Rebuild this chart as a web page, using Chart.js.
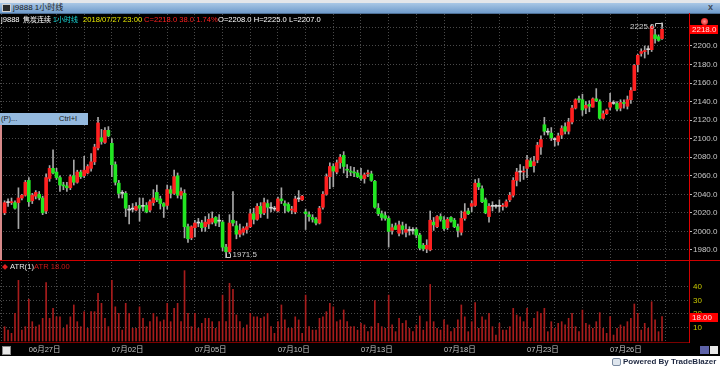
<!DOCTYPE html>
<html><head><meta charset="utf-8">
<script src="https://cdn.jsdelivr.net/npm/chart.js@4.4.0/dist/chart.umd.min.js"></script>
<style>
html,body{margin:0;padding:0;background:#000;width:720px;height:367px;overflow:hidden;font-family:"Liberation Sans","Noto Sans CJK SC",sans-serif;}
.abs{position:absolute;white-space:nowrap;}
#tbTop{left:0;top:0;width:720px;height:3px;background:#e4e6ea;}
#tb{left:0;top:3px;width:720px;height:10px;background:linear-gradient(#a9c7e6,#6f9bcb);border-bottom:1px solid #4d6f96;}
#tbIcon{left:2px;top:4px;width:7px;height:6px;background:#2b2b2b;border:1px solid #d0d0d0;}
#tbText{left:13px;top:3px;font-size:8px;line-height:10px;color:#1a1a1a;}
#tbClose{left:708px;top:2px;font-size:9px;line-height:10px;color:#404a58;font-weight:bold;}
.info{top:15px;font-size:7.6px;line-height:10px;}
#menu{left:0;top:113px;width:88px;height:12px;background:#94b9de;font-size:7.5px;line-height:12px;color:#1a1a1a;}
#pc{left:0;top:13px;}
#ac{left:0;top:260px;}
#bottom{left:0;top:356px;width:720px;height:11px;background:#fff;}
#powered{left:623px;top:356px;font-size:8px;line-height:11px;font-weight:bold;color:#1d2740;}
#pIcon{left:612px;top:358px;width:7px;height:6px;border:1px solid #7a8aa0;border-radius:2px;background:#dfe6ee;}
#gearL{left:2px;top:346px;width:7px;height:7px;background:#e8e8e8;border:1px solid #888;}
#blueR{left:700px;top:346px;width:9px;height:8px;background:#5d62a8;}
#gearR{left:710px;top:346px;width:8px;height:8px;background:#e8e8e8;}
#dot{left:701px;top:18px;width:7px;height:7px;border-radius:50%;background:radial-gradient(#ff9090,#e00000);}
#leftLine{left:0;top:125px;width:2px;height:135px;background:#d88a8a;}
.leg{top:262px;font-size:7.6px;line-height:10px;}
</style></head>
<body>
<div class="abs" id="tbTop"></div>
<div class="abs" id="tb"></div>
<div class="abs" id="tbIcon"></div>
<div class="abs" id="tbText">j9888 1小时线</div>
<div class="abs" id="tbClose">x</div>
<canvas class="abs" id="pc" width="720" height="247"></canvas>
<canvas class="abs" id="ac" width="720" height="96"></canvas>
<div class="abs info" style="left:1px;color:#ffffff">j9888</div>
<div class="abs info" style="left:23px;color:#ffffff;font-size:7px">焦炭连续</div>
<div class="abs info" style="left:53px;color:#19d8d8;font-size:7px">1小时线</div>
<div class="abs info" style="left:83px;color:#e8e800">2018/07/27 23:00</div>
<div class="abs info" style="left:144px;color:#ff2020">C=2218.0 38.0 1.74%</div>
<div class="abs info" style="left:218px;color:#ffffff">O=2208.0 H=2225.0 L=2207.0</div>
<div class="abs" id="dot"></div>
<div class="abs" id="leftLine"></div>
<div class="abs" id="menu"><span style="position:absolute;left:1px">(P)...</span><span style="position:absolute;left:59px">Ctrl+I</span></div>
<div class="abs leg" style="left:2px;color:#e02020;font-size:6px">◆</div>
<div class="abs leg" style="left:10px;color:#e8e8e8">ATR(1)</div>
<div class="abs leg" id="atrLeg" style="left:34px;color:#d01818"></div>
<div class="abs" id="gearL"></div>
<div class="abs" id="bottom"></div>
<div class="abs" id="pIcon"></div>
<div class="abs" id="powered">Powered By TradeBlazer</div>
<div class="abs" id="blueR"></div>
<div class="abs" id="gearR"></div>
<script>
// ---- data (hourly bars, j9888) ----
const opens = [2020,2031,2031,2031,2031,2036,2039,2055,2033,2038,
2040,2036,2022,2057,2068,2064,2058,2050,2049,2047,
2060,2053,2064,2060,2063,2068,2075,2090,2101,2096,
2109,2095,2072,2052,2041,2041,2023,2024,2023,2028,
2027,2028,2023,2031,2042,2035,2030,2028,2045,2041,
2060,2039,2041,2005,1993,2004,2009,2009,2005,2008,
2010,2015,2011,2010,1983,1978,2012,2006,1997,1999,
2002,2005,2019,2013,2027,2020,2030,2025,2024,2022,
2035,2030,2029,2023,2021,2035,2034,2021,2018,2015,
2013,2009,2026,2040,2059,2070,2064,2074,2082,2067,
2065,2064,2063,2060,2057,2062,2062,2054,2025,2019,
2017,2014,2001,2006,1998,2006,1999,2001,2001,2002,
1996,1985,1981,1980,2010,2005,2016,2012,2004,2015,
2012,2005,1999,2014,2022,2027,2028,2052,2046,2034,
2016,2027,2027,2027,2027,2027,2034,2039,2055,2064,
2064,2068,2076,2071,2077,2091,2115,2107,2106,2099,
2097,2104,2113,2108,2118,2133,2143,2142,2133,2137,
2134,2143,2140,2122,2127,2134,2138,2138,2133,2139,
2135,2142,2152,2180,2192,2194,2196,2196,2212,2210,
2208];
const highs = [2033,2035,2036,2033,2047,2040,2055,2058,2041,2044,
2043,2038,2062,2071,2088,2068,2060,2053,2053,2061,
2077,2066,2066,2081,2072,2084,2094,2123,2110,2112,
2113,2100,2075,2055,2044,2043,2028,2030,2031,2036,
2036,2031,2034,2045,2050,2038,2031,2050,2049,2066,
2063,2047,2045,2008,2006,2012,2014,2012,2016,2019,
2021,2016,2018,2012,1986,2018,2043,2011,2008,2005,
2009,2024,2025,2030,2031,2036,2034,2031,2027,2037,
2047,2033,2031,2027,2038,2044,2039,2024,2021,2018,
2015,2027,2043,2062,2074,2073,2077,2083,2086,2072,
2070,2069,2066,2068,2063,2066,2065,2055,2030,2022,
2021,2016,2008,2009,2011,2010,2008,2005,2004,2004,
1998,1987,1991,2022,2015,2017,2019,2016,2015,2016,
2014,2008,2022,2030,2025,2033,2056,2057,2049,2036,
2030,2032,2029,2034,2030,2034,2042,2058,2068,2072,
2070,2082,2079,2081,2096,2103,2123,2111,2112,2101,
2106,2114,2117,2122,2136,2143,2146,2148,2140,2141,
2144,2154,2142,2130,2132,2149,2141,2140,2142,2142,
2146,2155,2180,2191,2197,2200,2200,2223,2218,2212,
2225];
const lows = [2018,2027,2029,2024,2003,2034,2038,2027,2030,2035,
2034,2018,2019,2054,2062,2056,2043,2045,2043,2045,
2050,2052,2057,2058,2062,2065,2072,2088,2094,2095,
2102,2059,2050,2036,2036,2016,2008,2021,2022,2011,
2022,2020,2021,2028,2032,2024,2015,2024,2036,2040,
2036,2035,1993,1988,1991,1994,2005,2000,2000,2003,
2008,2006,2005,1979,1971.5,1976,2006,1992,1994,1996,
1998,2004,2008,2012,2015,2018,2014,2021,2022,2021,
2030,2020,2021,2019,2019,2032,2033,2002,2011,2010,
2007,2008,2024,2039,2046,2048,2062,2068,2063,2058,
2060,2059,2058,2055,2052,2059,2054,2025,2017,2012,
2012,1983,1997,2002,1995,1997,1994,1996,1997,1993,
1980,1979,1977,1979,2001,2004,2011,2001,2002,2010,
2004,1994,1996,2012,2018,2021,2027,2045,2031,2019,
2010,2022,2025,2021,2023,2026,2032,2037,2049,2054,
2056,2058,2070,2064,2074,2083,2104,2104,2098,2092,
2093,2100,2105,2105,2116,2132,2139,2125,2127,2129,
2134,2140,2121,2121,2126,2131,2137,2130,2130,2133,
2132,2138,2152,2172,2189,2187,2191,2194,2203,2205,
2207];
const closes = [2031,2031,2032,2025,2036,2039,2053,2032,2039,2042,
2036,2020,2058,2068,2063,2058,2050,2049,2047,2059,
2053,2064,2059,2066,2070,2075,2091,2117,2097,2109,
2103,2072,2053,2041,2041,2025,2023,2024,2027,2025,
2027,2021,2032,2036,2034,2030,2027,2045,2041,2059,
2039,2043,2005,1992,2005,2009,2009,2004,2010,2013,
2014,2009,2011,1983,1978,2009,2009,1997,2001,2003,
2005,2019,2013,2027,2019,2031,2026,2025,2024,2035,
2033,2028,2022,2024,2035,2035,2038,2019,2016,2013,
2009,2025,2040,2059,2070,2065,2074,2080,2070,2066,
2064,2063,2059,2057,2061,2063,2055,2026,2019,2015,
2014,2000,2004,2002,2007,2002,2002,2001,2001,1996,
1982,1981,1985,2012,2007,2016,2013,2003,2013,2011,
2005,2001,2014,2021,2019,2030,2052,2048,2032,2020,
2027,2027,2027,2027,2028,2032,2039,2055,2064,2064,
2065,2077,2070,2075,2093,2099,2108,2107,2101,2099,
2103,2111,2108,2118,2133,2142,2142,2131,2136,2135,
2143,2141,2122,2127,2131,2139,2138,2132,2139,2138,
2142,2152,2179,2190,2194,2195,2196,2221,2208,2206,
2218];
const atrValues = [10.6,8.1,5.7,20.5,44.9,8.1,10.6,30.9,14.3,10.6,
11.9,16.8,43.2,16.8,24.2,17.9,17.9,9.4,11.9,17.9,
26.7,14.3,10.6,21.7,9.4,21.7,21.7,35.3,27.9,16.8,
10.6,44.9,25.3,20.5,8.1,27.9,20.5,9.4,9.4,25.3,
16.8,10.6,14.3,20.5,17.9,14.3,15.6,27.9,14.3,24.2,
27.9,14.3,52.1,20.5,10.6,20.5,9.4,13.1,16.8,16.8,
14.3,9.4,14.3,34.0,14.3,42.7,38.3,19.3,14.3,9.4,
11.9,20.5,17.9,17.9,16.8,17.9,20.5,10.6,5.7,14.3,
26.7,15.6,9.4,9.4,17.9,15.6,5.7,34.0,10.6,8.1,
8.1,16.8,17.9,21.7,27.9,25.3,14.3,15.6,23.0,14.3,
10.6,10.6,8.1,13.0,11.9,6.9,10.6,29.9,13.1,10.6,
9.4,34.0,11.9,6.9,16.8,13.1,15.1,9.4,6.9,11.9,
18.5,8.1,14.3,41.9,14.3,9.4,8.1,15.6,11.9,6.9,
9.4,15.6,26.7,17.9,6.9,14.3,28.4,9.4,17.9,15.6,
20.5,10.6,4.4,13.1,8.1,8.1,10.6,24.2,19.3,17.9,
14.3,24.2,9.4,16.8,21.7,20.5,24.2,6.9,14.3,9.4,
13.1,14.3,11.9,16.8,20.5,10.6,6.9,22.9,13.1,11.9,
9.4,14.3,21.0,9.4,5.7,18.0,4.4,9.4,11.9,10.6,
14.3,16.8,27.4,20.5,8.1,13.1,9.4,29.1,15.6,6.9,
18.0];
const priceTicks = [1980,2000,2020,2040,2060,2080,2100,2120,2140,2160,2180,2200,2220];
const atrTicks = [10,20,30,40];
const dateLabels = ['06月27日','07月02日','07月05日','07月10日','07月13日','07月18日','07月23日','07月26日'];
const dateLabelBars = [7,31,55,79,103,127,151,175];
const dayGridBars = [-1,7,15,23,31,39,47,55,63,71,79,87,95,103,111,119,127,135,143,151,159,167,175,183,191];

// ---- layout constants (view window, not data) ----
const X_MIN = -1.33, X_MAX = 197.8;
const P_MIN = 1970.2, P_MAX = 2234.5;
const A_MIN = -0.74, A_MAX = 58.5;
const UP = '#ff2020', DOWN = '#22e622', DOJI = '#d8d8d8', WICK = '#a8a8a8';
const GRID = '#4a4a4a';
const FONT = '"Liberation Sans","Noto Sans CJK SC",sans-serif';

const idx = opens.map((_, i) => i);
const bodyColor = idx.map(i => closes[i] > opens[i] ? UP : (closes[i] < opens[i] ? DOWN : DOJI));
const bodies = idx.map(i => ({x: i, y: [opens[i], closes[i]]}));
const wicks = idx.map(i => ({x: i, y: [lows[i], highs[i]]}));
const atrData = idx.map(i => ({x: i, y: atrValues[i]}));

document.getElementById('atrLeg').textContent = 'ATR ' + atrValues[atrValues.length - 1].toFixed(2);

function noPad(s) { s.paddingTop = 0; s.paddingBottom = 0; s.paddingLeft = 0; s.paddingRight = 0; }

function xScaleOpts(showLabels) {
  return {
    type: 'linear', min: X_MIN, max: X_MAX, offset: false,
    afterBuildTicks: s => { s.ticks = dayGridBars.map(v => ({value: v})); },
    afterFit: s => { s.height = showLabels ? 14 : 0; noPad(s); },
    grid: {color: GRID, lineWidth: 1, drawTicks: false, offset: false},
    border: {display: false, dash: [1, 2]},
    ticks: {
      display: showLabels, autoSkip: false, maxRotation: 0, align: 'start',
      color: '#c4c4c4', font: {family: FONT, size: 7.5}, padding: 3,
      callback: v => { const k = dateLabelBars.indexOf(v); return k >= 0 ? dateLabels[k] : ''; }
    }
  };
}

function priceLabel(ctx, area, yPix, text, W) {
  ctx.fillStyle = '#ff0000';
  ctx.fillRect(area.right + 1, Math.round(yPix) - 4, W - area.right - 3, 9);
  ctx.fillStyle = '#ffe0e0';
  ctx.font = '8px ' + FONT;
  ctx.textAlign = 'left'; ctx.textBaseline = 'middle';
  ctx.fillText(text, area.right + 3, Math.round(yPix) + 0.5);
}

const priceDecor = {
  id: 'priceDecor',
  afterDraw(chart) {
    const {ctx, chartArea: a, scales: {x, y}} = chart;
    ctx.save();
    ctx.strokeStyle = '#e00000'; ctx.lineWidth = 1;
    ctx.beginPath(); ctx.moveTo(a.right + 0.5, 0); ctx.lineTo(a.right + 0.5, chart.height); ctx.stroke();
    let hi = 0, lo = 0;
    for (let i = 1; i < highs.length; i++) { if (highs[i] >= highs[hi]) hi = i; if (lows[i] <= lows[lo]) lo = i; }
    ctx.strokeStyle = '#c8c8c8'; ctx.fillStyle = '#d0d0d0';
    ctx.font = '8px ' + FONT; ctx.textBaseline = 'middle';
    let hx = Math.round(x.getPixelForValue(hi)) + 0.5, hy = Math.round(y.getPixelForValue(highs[hi])) + 0.5;
    ctx.beginPath(); ctx.moveTo(hx - 7, hy + 3); ctx.lineTo(hx - 7, hy); ctx.lineTo(hx, hy); ctx.lineTo(hx, hy + 3); ctx.stroke();
    ctx.textAlign = 'right'; ctx.fillText(highs[hi].toFixed(1), hx - 8, hy + 3);
    let lx = Math.round(x.getPixelForValue(lo)) + 0.5, ly = Math.round(y.getPixelForValue(lows[lo])) - 0.5;
    ctx.beginPath(); ctx.moveTo(lx, ly - 4); ctx.lineTo(lx, ly); ctx.lineTo(lx + 4, ly); ctx.lineTo(lx + 4, ly - 4); ctx.stroke();
    ctx.textAlign = 'left'; ctx.fillText(lows[lo].toFixed(1), lx + 6, ly - 3);
    priceLabel(ctx, a, y.getPixelForValue(closes[closes.length - 1]), closes[closes.length - 1].toFixed(1), chart.width);
    ctx.restore();
  }
};

new Chart(document.getElementById('pc'), {
  type: 'bar',
  data: {datasets: [
    {data: bodies, backgroundColor: bodyColor, barThickness: 3, minBarLength: 1, grouped: false, order: 0},
    {data: wicks, backgroundColor: WICK, barThickness: 1, grouped: false, order: 1}
  ]},
  options: {
    responsive: false, animation: false, events: [],
    layout: {padding: {top: 1, bottom: 1, left: 0, right: 0}},
    plugins: {legend: {display: false}, tooltip: {enabled: false}},
    scales: {
      x: xScaleOpts(false),
      y: {
        type: 'linear', position: 'right', min: P_MIN, max: P_MAX,
        afterBuildTicks: s => { s.ticks = priceTicks.map(v => ({value: v})); },
        afterFit: s => { s.width = 31; noPad(s); },
        grid: {color: GRID, drawTicks: true, tickLength: 3, tickColor: '#bdbdbd'},
        border: {display: false, dash: [1, 2]},
        ticks: {color: '#c8c8c8', font: {family: FONT, size: 8}, padding: 1, callback: v => Number(v).toFixed(1)}
      }
    }
  },
  plugins: [priceDecor]
});

const atrDecor = {
  id: 'atrDecor',
  afterDraw(chart) {
    const {ctx, chartArea: a, scales: {y}} = chart;
    ctx.save();
    ctx.strokeStyle = '#d00000'; ctx.lineWidth = 1;
    ctx.beginPath(); ctx.moveTo(0, 0.5); ctx.lineTo(chart.width, 0.5); ctx.stroke();
    ctx.beginPath(); ctx.moveTo(a.right + 0.5, 0); ctx.lineTo(a.right + 0.5, a.bottom + 1); ctx.stroke();
    ctx.strokeStyle = '#7a0000';
    ctx.beginPath(); ctx.moveTo(0, a.bottom + 0.5); ctx.lineTo(a.right, a.bottom + 0.5); ctx.stroke();
    const last = atrValues[atrValues.length - 1];
    priceLabel(ctx, a, y.getPixelForValue(last), last.toFixed(2), chart.width);
    ctx.restore();
  }
};

new Chart(document.getElementById('ac'), {
  type: 'bar',
  data: {datasets: [{data: atrData, backgroundColor: '#a81c1c', barThickness: 1}]},
  options: {
    responsive: false, animation: false, events: [],
    layout: {padding: {top: 2, bottom: 0, left: 0, right: 0}},
    plugins: {legend: {display: false}, tooltip: {enabled: false}},
    scales: {
      x: xScaleOpts(true),
      y: {
        type: 'linear', position: 'right', min: A_MIN, max: A_MAX,
        afterBuildTicks: s => { s.ticks = atrTicks.map(v => ({value: v})); },
        afterFit: s => { s.width = 31; noPad(s); },
        grid: {color: GRID, drawTicks: true, tickLength: 3, tickColor: 'rgba(0,0,0,0)'},
        border: {display: false, dash: [1, 2]},
        ticks: {color: '#c8c800', font: {family: FONT, size: 8}, padding: 1, callback: v => String(v)}
      }
    }
  },
  plugins: [atrDecor]
});
</script>
</body></html>
